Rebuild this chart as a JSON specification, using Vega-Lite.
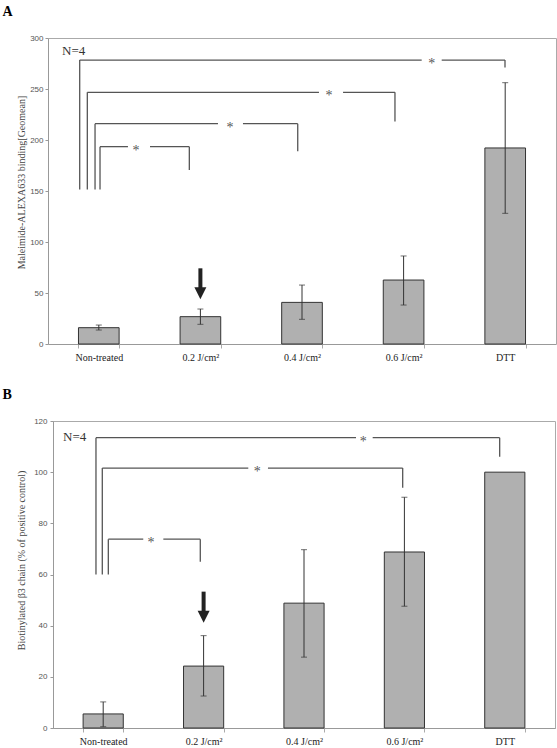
{
  "$schema": "https://vega.github.io/schema/vega-lite/v6.json",
  "padding": {"left": 2, "top": 5, "right": 0, "bottom": 0},
  "spacing": 25,
  "config": {
    "view": {"stroke": "#aaa", "strokeWidth": 1},
    "title": {"font": "Liberation Serif", "fontSize": 14, "fontWeight": "bold", "color": "#000", "anchor": "start", "frame": "group"}
  },
  "datasets": {
    "barsA": [
      {"group": "Non-treated", "mean": 16, "lo": 13.7, "hi": 18.6},
      {"group": "0.2 J/cm²", "mean": 26.8, "lo": 19.3, "hi": 34.3},
      {"group": "0.4 J/cm²", "mean": 40.8, "lo": 24.2, "hi": 57.8},
      {"group": "0.6 J/cm²", "mean": 62.7, "lo": 38.2, "hi": 86.3},
      {"group": "DTT", "mean": 192.2, "lo": 128.1, "hi": 256.2}
    ],
    "arrowA": [{"group": "0.2 J/cm²", "top": 74.2, "head": 49.7}],
    "bracketsA": [
      {"x1": 0.312, "y1": 151.5, "x2": 0.312, "y2": 278.4},
      {"x1": 0.312, "y1": 278.4, "x2": 3.678, "y2": 278.4},
      {"x1": 3.875, "y1": 278.4, "x2": 4.498, "y2": 278.4},
      {"x1": 4.498, "y1": 278.4, "x2": 4.498, "y2": 271},
      {"x1": 0.387, "y1": 151.5, "x2": 0.387, "y2": 246.7},
      {"x1": 0.387, "y1": 246.7, "x2": 2.667, "y2": 246.7},
      {"x1": 2.904, "y1": 246.7, "x2": 3.415, "y2": 246.7},
      {"x1": 3.415, "y1": 246.7, "x2": 3.415, "y2": 218.2},
      {"x1": 0.463, "y1": 151.5, "x2": 0.463, "y2": 216},
      {"x1": 0.463, "y1": 216, "x2": 1.673, "y2": 216},
      {"x1": 1.919, "y1": 216, "x2": 2.458, "y2": 216},
      {"x1": 2.458, "y1": 216, "x2": 2.458, "y2": 189},
      {"x1": 0.512, "y1": 151.5, "x2": 0.512, "y2": 193.5},
      {"x1": 0.512, "y1": 193.5, "x2": 0.787, "y2": 193.5},
      {"x1": 1.004, "y1": 193.5, "x2": 1.391, "y2": 193.5},
      {"x1": 1.391, "y1": 193.5, "x2": 1.391, "y2": 170.6}
    ],
    "starsA": [
      {"x": 3.777, "y": 278.4, "label": "*"},
      {"x": 2.766, "y": 246.7, "label": "*"},
      {"x": 1.791, "y": 216, "label": "*"},
      {"x": 0.866, "y": 193.5, "label": "*"}
    ],
    "noteA": [{"x": 0.138, "y": 283.3, "label": "N=4"}],
    "barsB": [
      {"group": "Non-treated", "mean": 5.5, "lo": 0.5, "hi": 10.2},
      {"group": "0.2 J/cm²", "mean": 24.2, "lo": 12.5, "hi": 36.1},
      {"group": "0.4 J/cm²", "mean": 48.8, "lo": 27.7, "hi": 69.7},
      {"group": "0.6 J/cm²", "mean": 68.8, "lo": 47.6, "hi": 90.2},
      {"group": "DTT", "mean": 100}
    ],
    "arrowB": [{"group": "0.2 J/cm²", "top": 53.3, "head": 43.5}],
    "bracketsB": [
      {"x1": 0.428, "y1": 60, "x2": 0.428, "y2": 113.5},
      {"x1": 0.428, "y1": 113.5, "x2": 3.018, "y2": 113.5},
      {"x1": 3.184, "y1": 113.5, "x2": 4.449, "y2": 113.5},
      {"x1": 4.449, "y1": 113.5, "x2": 4.449, "y2": 106},
      {"x1": 0.491, "y1": 60, "x2": 0.491, "y2": 101.6},
      {"x1": 0.491, "y1": 101.6, "x2": 1.945, "y2": 101.6},
      {"x1": 2.141, "y1": 101.6, "x2": 3.483, "y2": 101.6},
      {"x1": 3.483, "y1": 101.6, "x2": 3.483, "y2": 93.9},
      {"x1": 0.551, "y1": 60, "x2": 0.551, "y2": 73.8},
      {"x1": 0.551, "y1": 73.8, "x2": 0.899, "y2": 73.8},
      {"x1": 1.099, "y1": 73.8, "x2": 1.467, "y2": 73.8},
      {"x1": 1.467, "y1": 73.8, "x2": 1.467, "y2": 65}
    ],
    "starsB": [
      {"x": 3.09, "y": 113.5, "label": "*"},
      {"x": 2.035, "y": 101.6, "label": "*"},
      {"x": 0.976, "y": 73.8, "label": "*"}
    ],
    "noteB": [{"x": 0.1, "y": 112.3, "label": "N=4"}]
  },
  "vconcat": [
    {
      "title": {"text": "A", "dx": -50.5, "offset": 15},
      "width": 503,
      "height": 306,
      "view": {"stroke": null},
      "resolve": {"scale": {"x": "independent"}, "axis": {"y": "independent"}},
      "layer": [
        {
          "encoding": {
            "x": {"field": "group", "type": "nominal", "sort": null,
              "scale": {"domain": ["Non-treated", "0.2 J/cm²", "0.4 J/cm²", "0.6 J/cm²", "DTT"], "range": [-5, 503], "paddingInner": 0.6, "paddingOuter": 0.3},
              "axis": {"title": null, "labelAngle": 0, "labelFont": "Liberation Serif", "labelFontSize": 10, "labelColor": "#222", "tickBand": "extent", "tickSize": 4, "tickColor": "#aaa", "domainColor": "#999", "labelPadding": 4}}
          },
          "layer": [
            {
              "data": {"name": "barsA"},
              "mark": {"type": "bar", "fill": "#b0b0b0", "stroke": "#333", "strokeWidth": 1},
              "encoding": {
                "y": {"field": "mean", "type": "quantitative", "scale": {"domain": [0, 300], "nice": false},
                  "axis": {"title": "Maleimide-ALEXA633 binding[Geomean]", "orient": "left", "offset": 5, "values": [0, 50, 100, 150, 200, 250, 300], "grid": false,
                    "titleFont": "Liberation Serif", "titleFontSize": 10, "titleFontWeight": "normal", "titleColor": "#444",
                    "titleX": -27, "titleY": 144, "titleBaseline": "middle", "titleAlign": "center", "titleAngle": -90,
                    "labelFont": "Liberation Sans", "labelFontSize": 8, "labelColor": "#555", "tickSize": 3, "tickColor": "#999", "domainColor": "#999", "labelPadding": 2}}
              }
            },
            {
              "data": {"name": "barsA"},
              "mark": {"type": "rule", "color": "#333", "strokeWidth": 1},
              "encoding": {"y": {"field": "lo", "type": "quantitative"}, "y2": {"field": "hi"}}
            },
            {
              "data": {"name": "barsA"},
              "mark": {"type": "tick", "color": "#333", "size": 6, "thickness": 1, "orient": "horizontal"},
              "encoding": {"y": {"field": "lo", "type": "quantitative"}}
            },
            {
              "data": {"name": "barsA"},
              "mark": {"type": "tick", "color": "#333", "size": 6, "thickness": 1, "orient": "horizontal"},
              "encoding": {"y": {"field": "hi", "type": "quantitative"}}
            },
            {
              "data": {"name": "arrowA"},
              "mark": {"type": "rule", "color": "#222", "strokeWidth": 4},
              "encoding": {"y": {"field": "top", "type": "quantitative"}, "y2": {"field": "head"}}
            },
            {
              "data": {"name": "arrowA"},
              "mark": {"type": "point", "shape": "M-1,-1L1,-1L0,1Z", "size": 144, "filled": true, "color": "#222", "opacity": 1},
              "encoding": {"y": {"field": "head", "type": "quantitative"}}
            }
          ]
        },
        {
          "layer": [
            {
              "data": {"name": "bracketsA"},
              "mark": {"type": "rule", "color": "#555", "strokeWidth": 1.3},
              "encoding": {
                "x": {"field": "x1", "type": "quantitative", "scale": {"domain": [0, 5], "range": [-5, 503], "nice": false, "zero": false},
                  "axis": {"orient": "top", "title": null, "labels": false, "ticks": false, "grid": false, "domain": true, "domainColor": "#aaa"}},
                "x2": {"field": "x2"},
                "y": {"field": "y1", "type": "quantitative",
                  "axis": {"orient": "right", "title": null, "labels": false, "ticks": false, "grid": false, "domain": true, "domainColor": "#aaa"}},
                "y2": {"field": "y2"}
              }
            },
            {
              "data": {"name": "starsA"},
              "mark": {"type": "text", "font": "Liberation Serif", "fontSize": 14, "fill": "#555", "baseline": "middle", "align": "center", "dy": 4},
              "encoding": {
                "x": {"field": "x", "type": "quantitative", "scale": {"domain": [0, 5], "range": [-5, 503], "nice": false, "zero": false},
                  "axis": {"orient": "top", "title": null, "labels": false, "ticks": false, "grid": false, "domain": true, "domainColor": "#aaa"}},
                "y": {"field": "y", "type": "quantitative",
                  "axis": {"orient": "right", "title": null, "labels": false, "ticks": false, "grid": false, "domain": true, "domainColor": "#aaa"}},
                "text": {"field": "label"}
              }
            },
            {
              "data": {"name": "noteA"},
              "mark": {"type": "text", "font": "Liberation Serif", "fontSize": 13, "fill": "#333", "baseline": "alphabetic", "align": "left"},
              "encoding": {
                "x": {"field": "x", "type": "quantitative", "scale": {"domain": [0, 5], "range": [-5, 503], "nice": false, "zero": false},
                  "axis": {"orient": "top", "title": null, "labels": false, "ticks": false, "grid": false, "domain": true, "domainColor": "#aaa"}},
                "y": {"field": "y", "type": "quantitative",
                  "axis": {"orient": "right", "title": null, "labels": false, "ticks": false, "grid": false, "domain": true, "domainColor": "#aaa"}},
                "text": {"field": "label"}
              }
            }
          ]
        }
      ]
    },
    {
      "title": {"text": "B", "dx": -50.5, "offset": 15},
      "width": 502,
      "height": 307,
      "resolve": {"scale": {"x": "independent"}},
      "layer": [
        {
          "encoding": {
            "x": {"field": "group", "type": "nominal", "sort": null,
              "scale": {"domain": ["Non-treated", "0.2 J/cm²", "0.4 J/cm²", "0.6 J/cm²", "DTT"], "paddingInner": 0.6, "paddingOuter": 0.3},
              "axis": {"title": null, "labelAngle": 0, "labelFont": "Liberation Serif", "labelFontSize": 10, "labelColor": "#222", "tickBand": "extent", "tickSize": 4, "tickColor": "#aaa", "domainColor": "#999", "labelPadding": 4}}
          },
          "layer": [
            {
              "data": {"name": "barsB"},
              "mark": {"type": "bar", "fill": "#b0b0b0", "stroke": "#333", "strokeWidth": 1},
              "encoding": {
                "y": {"field": "mean", "type": "quantitative", "scale": {"domain": [0, 120], "nice": false},
                  "axis": {"title": "Biotinylated β3 chain (% of positive control)", "values": [0, 20, 40, 60, 80, 100, 120], "grid": false,
                    "titleFont": "Liberation Serif", "titleFontSize": 10, "titleFontWeight": "normal", "titleColor": "#444",
                    "titleX": -32, "titleY": 139, "titleBaseline": "middle", "titleAlign": "center", "titleAngle": -90,
                    "labelFont": "Liberation Sans", "labelFontSize": 8, "labelColor": "#555", "tickSize": 3, "tickColor": "#999", "domainColor": "#999", "labelPadding": 3}}
              }
            },
            {
              "data": {"name": "barsB"},
              "transform": [{"filter": "isValid(datum.lo)"}],
              "mark": {"type": "rule", "color": "#333", "strokeWidth": 1},
              "encoding": {"y": {"field": "lo", "type": "quantitative"}, "y2": {"field": "hi"}}
            },
            {
              "data": {"name": "barsB"},
              "transform": [{"filter": "isValid(datum.lo)"}],
              "mark": {"type": "tick", "color": "#333", "size": 6, "thickness": 1, "orient": "horizontal"},
              "encoding": {"y": {"field": "lo", "type": "quantitative"}}
            },
            {
              "data": {"name": "barsB"},
              "transform": [{"filter": "isValid(datum.hi)"}],
              "mark": {"type": "tick", "color": "#333", "size": 6, "thickness": 1, "orient": "horizontal"},
              "encoding": {"y": {"field": "hi", "type": "quantitative"}}
            },
            {
              "data": {"name": "arrowB"},
              "mark": {"type": "rule", "color": "#222", "strokeWidth": 4},
              "encoding": {"y": {"field": "top", "type": "quantitative"}, "y2": {"field": "head"}}
            },
            {
              "data": {"name": "arrowB"},
              "mark": {"type": "point", "shape": "M-1,-1L1,-1L0,1Z", "size": 144, "filled": true, "color": "#222", "opacity": 1},
              "encoding": {"y": {"field": "head", "type": "quantitative"}}
            }
          ]
        },
        {
          "layer": [
            {
              "data": {"name": "bracketsB"},
              "mark": {"type": "rule", "color": "#555", "strokeWidth": 1.3},
              "encoding": {
                "x": {"field": "x1", "type": "quantitative", "scale": {"domain": [0, 5], "nice": false, "zero": false}, "axis": null},
                "x2": {"field": "x2"},
                "y": {"field": "y1", "type": "quantitative"},
                "y2": {"field": "y2"}
              }
            },
            {
              "data": {"name": "starsB"},
              "mark": {"type": "text", "font": "Liberation Serif", "fontSize": 14, "fill": "#555", "baseline": "middle", "align": "center", "dy": 4},
              "encoding": {
                "x": {"field": "x", "type": "quantitative", "scale": {"domain": [0, 5], "nice": false, "zero": false}, "axis": null},
                "y": {"field": "y", "type": "quantitative"},
                "text": {"field": "label"}
              }
            },
            {
              "data": {"name": "noteB"},
              "mark": {"type": "text", "font": "Liberation Serif", "fontSize": 13, "fill": "#333", "baseline": "alphabetic", "align": "left"},
              "encoding": {
                "x": {"field": "x", "type": "quantitative", "scale": {"domain": [0, 5], "nice": false, "zero": false}, "axis": null},
                "y": {"field": "y", "type": "quantitative"},
                "text": {"field": "label"}
              }
            }
          ]
        }
      ]
    }
  ]
}
